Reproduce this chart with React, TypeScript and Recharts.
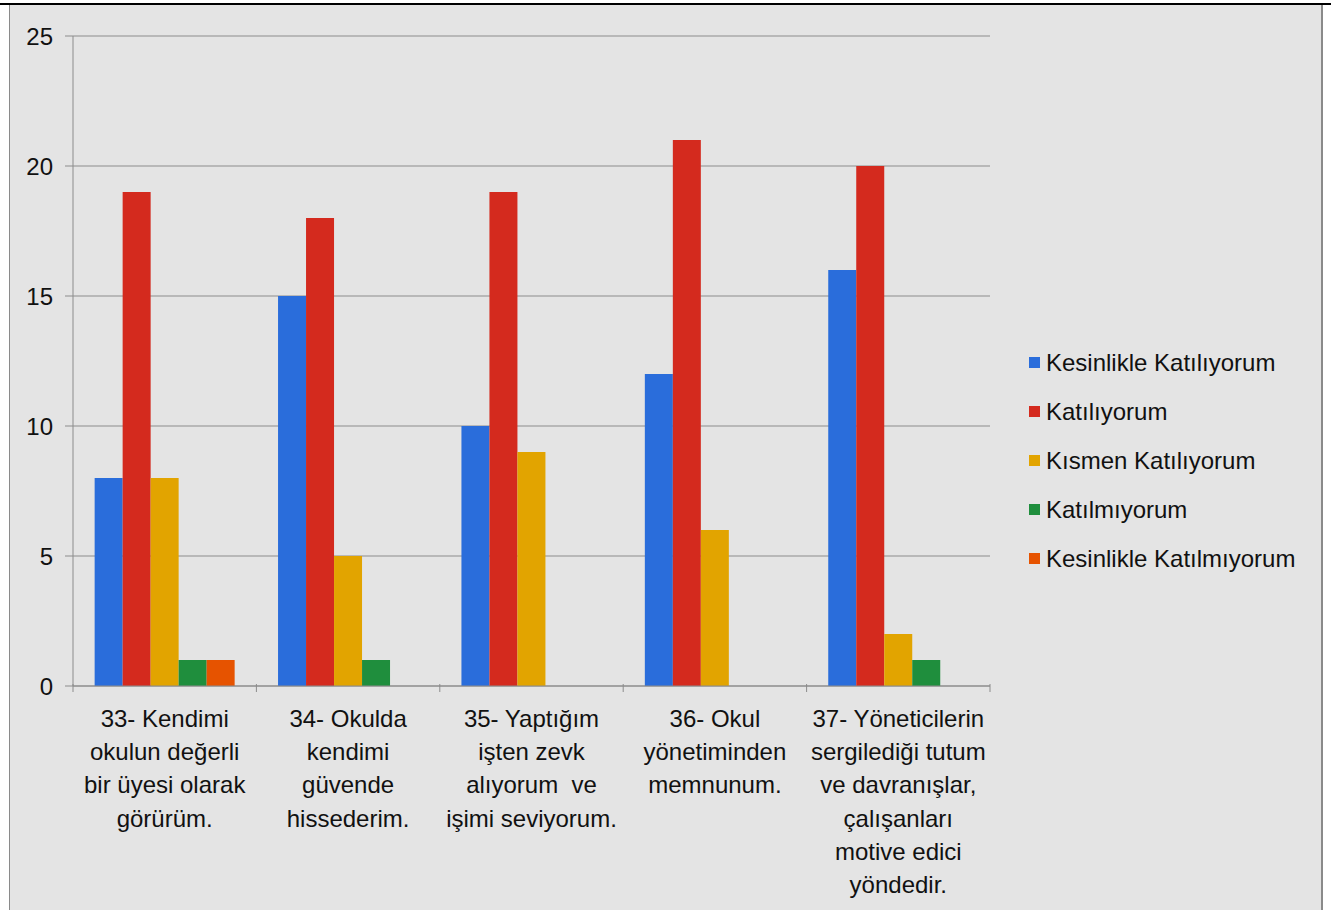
import React from "react";
import { BarChart, Bar, XAxis, YAxis, CartesianGrid, Legend } from "recharts";

const categories = [
    "33- Kendimi\nokulun değerli\nbir üyesi olarak\ngörürüm.",
    "34- Okulda\nkendimi\ngüvende\nhissederim.",
    "35- Yaptığım\nişten zevk\nalıyorum  ve\nişimi seviyorum.",
    "36- Okul\nyönetiminden\nmemnunum.",
    "37- Yöneticilerin\nsergilediği tutum\nve davranışlar,\nçalışanları\nmotive edici\nyöndedir.",
];

const seriesNames = [
    "Kesinlikle Katılıyorum",
    "Katılıyorum",
    "Kısmen Katılıyorum",
    "Katılmıyorum",
    "Kesinlikle Katılmıyorum",
];

const kesinlikleKatiliyorum = [8, 15, 10, 12, 16];
const katiliyorum = [19, 18, 19, 21, 20];
const kismenKatiliyorum = [8, 5, 9, 6, 2];
const katilmiyorum = [1, 1, 0, 0, 1];
const kesinlikleKatilmiyorum = [1, 0, 0, 0, 0];

const yTicks = [0, 5, 10, 15, 20, 25];

const colors = ["#2a6ddb", "#d42a1e", "#e2a400", "#1f8e3d", "#e65300"];
const keys = ["s1", "s2", "s3", "s4", "s5"];

const data = categories.map((c, i) => ({
    name: c,
    s1: kesinlikleKatiliyorum[i],
    s2: katiliyorum[i],
    s3: kismenKatiliyorum[i],
    s4: katilmiyorum[i],
    s5: kesinlikleKatilmiyorum[i],
}));

const FONT = "'Liberation Sans', Arial, sans-serif";
const AXIS = "#8c8c8c";

function CategoryTick(props: any) {
    const { x, y, payload, index } = props;
    const half = payload?.offset ?? 0;
    const lines = String(payload.value).split("\n");
    const axisY = y - 10;
    return (
        <g>
            <line x1={x - half} x2={x - half} y1={axisY} y2={axisY + 8} stroke={AXIS} />
            {index === categories.length - 1 && (
                <line x1={x + half} x2={x + half} y1={axisY} y2={axisY + 8} stroke={AXIS} />
            )}
            <text textAnchor="middle" fontFamily={FONT} fontSize={24} fill="#111">
                {lines.map((l, i) => (
                    <tspan key={i} x={x} y={axisY + 43 + i * 33.2} style={{ whiteSpace: "pre" }}>
                        {l}
                    </tspan>
                ))}
            </text>
        </g>
    );
}

function LegendBox() {
    return (
        <div style={{ width: 300, fontFamily: FONT, fontSize: 24, color: "#111" }}>
            {seriesNames.map((n, i) => (
                <div key={n} style={{ height: 49, display: "flex", alignItems: "center" }}>
                    <span
                        style={{
                            display: "inline-block",
                            width: 11,
                            height: 11,
                            background: colors[i],
                            marginRight: 6,
                        }}
                    />
                    <span style={{ whiteSpace: "nowrap" }}>{n}</span>
                </div>
            ))}
        </div>
    );
}

export default function App() {
    return (
        <div style={{ position: "absolute", left: 0, top: 0, width: 1331, height: 910, background: "#fff", overflow: "hidden" }}>
            <div style={{ position: "absolute", left: 0, top: 3, width: 1331, height: 2, background: "#000" }} />
            <div
                style={{
                    position: "absolute",
                    left: 9,
                    top: 5,
                    width: 1311,
                    height: 905,
                    background: "#e4e4e4",
                    borderLeft: "1px solid #8a8a8a",
                    borderRight: "2px solid #8a8a8a",
                }}
            />
            <div style={{ position: "absolute", left: 0, top: 0 }}>
                <BarChart
                    width={1331}
                    height={910}
                    data={data}
                    margin={{ top: 36, right: 41, left: 0, bottom: 24 }}
                    barCategoryGap="11.8%"
                    barGap={0}
                >
                    <CartesianGrid vertical={false} stroke={AXIS} strokeWidth={1} />
                    <XAxis
                        dataKey="name"
                        height={200}
                        stroke={AXIS}
                        tickLine={false}
                        interval={0}
                        tick={<CategoryTick />}
                        tickMargin={2}
                    />
                    <YAxis
                        width={73}
                        domain={[0, 25]}
                        ticks={yTicks}
                        stroke={AXIS}
                        tickSize={8}
                        tickMargin={12}
                        tick={{ fill: "#111", fontSize: 24, fontFamily: FONT }}
                    />
                    <Legend
                        layout="vertical"
                        align="right"
                        verticalAlign="middle"
                        content={<LegendBox />}
                        wrapperStyle={{ left: 1029, right: "auto", top: 338, width: 300 }}
                    />
                    {keys.map((k, i) => (
                        <Bar key={k} dataKey={k} name={seriesNames[i]} fill={colors[i]} isAnimationActive={false} />
                    ))}
                </BarChart>
            </div>
        </div>
    );
}
